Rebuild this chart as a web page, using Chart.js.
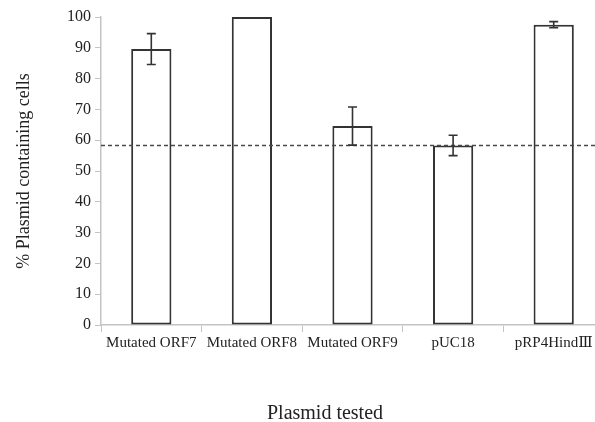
<!DOCTYPE html>
<html>
<head>
<meta charset="utf-8">
<script src="https://cdn.jsdelivr.net/npm/chart.js@4"></script>
<style>
  html, body { margin: 0; padding: 0; background: #fff; overflow: hidden; }
  canvas { display: block; }
</style>
</head>
<body>
<canvas id="chart" width="610" height="422"></canvas>
<script>
// datos
const categories = ['Mutated ORF7', 'Mutated ORF8', 'Mutated ORF9', 'pUC18', 'pRP4HindⅢ'];
const means = [89.6, 100, 64.6, 58.3, 97.5];
const errors = [5.0, 0, 6.2, 3.3, 1.0];
const threshold = 58.3;
const yTicks = [0, 10, 20, 30, 40, 50, 60, 70, 80, 90, 100];

const serif = '"Liberation Serif", "DejaVu Serif", serif';
const ink = '#222';
const axisGrey = '#c4c4c4';

// barras de error + línea discontinua
const extras = {
  id: 'extras',
  afterDatasetsDraw(chart) {
    const { ctx, chartArea, scales } = chart;
    const y = scales.y;
    const meta = chart.getDatasetMeta(0);

    // línea de referencia
    const ly = y.getPixelForValue(threshold);
    ctx.save();
    ctx.strokeStyle = '#4a4a4a';
    ctx.lineWidth = 1.5;
    ctx.setLineDash([4, 3]);
    ctx.beginPath();
    ctx.moveTo(chartArea.left, ly);
    ctx.lineTo(chartArea.right, ly);
    ctx.stroke();
    ctx.restore();

    // barras de error
    ctx.save();
    ctx.strokeStyle = '#333';
    ctx.lineWidth = 1.6;
    meta.data.forEach((bar, i) => {
      if (!errors[i]) return;
      const top = y.getPixelForValue(means[i] + errors[i]);
      const bot = y.getPixelForValue(means[i] - errors[i]);
      const cx = bar.x;
      ctx.beginPath();
      ctx.moveTo(cx, top); ctx.lineTo(cx, bot);
      ctx.moveTo(cx - 4.5, top); ctx.lineTo(cx + 4.5, top);
      ctx.moveTo(cx - 4.5, bot); ctx.lineTo(cx + 4.5, bot);
      ctx.stroke();
    });
    ctx.restore();
  }
};

const chart = new Chart(document.getElementById('chart'), {
  type: 'bar',
  data: {
    labels: categories,
    datasets: [{
      data: means,
      backgroundColor: '#fff',
      borderColor: '#333',
      borderWidth: 2,
      borderSkipped: false,
      barPercentage: 0.4,
      categoryPercentage: 1.0
    }]
  },
  options: {
    responsive: false,
    animation: false,
    layout: { padding: { top: 17, right: 6, left: 0, bottom: 0 } },
    plugins: {
      legend: { display: false },
      tooltip: { enabled: false }
    },
    scales: {
      x: {
        grid: { display: true, drawOnChartArea: false, color: axisGrey, tickLength: 7, offset: true },
        border: { color: axisGrey, width: 1.5 },
        ticks: { color: ink, font: { family: serif, size: 15 }, padding: 2, maxRotation: 0, autoSkip: false },
        title: {
          display: true,
          // espacios finales para desplazar el título a la izquierda como en el original
          text: 'Plasmid tested' + '\u00a0'.repeat(11),
          color: ink,
          font: { family: serif, size: 20, lineHeight: 1 },
          padding: { top: 0, bottom: -2 }
        },
        afterFit(s) { s.height = 97; }
      },
      y: {
        min: 0,
        max: 100,
        afterBuildTicks(s) { s.ticks = yTicks.map(v => ({ value: v })); },
        grid: { display: true, drawOnChartArea: false, color: axisGrey, tickLength: 6 },
        border: { color: axisGrey, width: 1.5 },
        ticks: { color: ink, font: { family: serif, size: 16 }, padding: 4 },
        title: {
          display: true,
          text: '% Plasmid containing cells',
          color: ink,
          font: { family: serif, size: 18 },
          padding: { top: 13, bottom: 0 }
        },
        afterFit(s) { s.width = 101; }
      }
    }
  },
  plugins: [extras]
});
</script>
</body>
</html>
